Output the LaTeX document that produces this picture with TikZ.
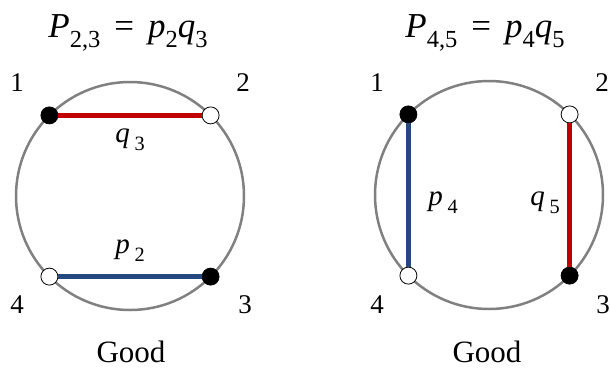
\documentclass[tikz,border=0pt]{standalone}
\usepackage{fontspec}
\setmainfont{Liberation Serif}
\usetikzlibrary{positioning}
\definecolor{chordred}{RGB}{192, 0, 0}
\definecolor{chordblue}{RGB}{38, 72, 128}
\newcommand{\lowsub}[1]{\raisebox{-0.6ex}{\scalebox{0.7}{#1}}}
\newcommand{\eqgap}{\hspace{0.4em}=\hspace{0.4em}}
\tikzset{
    ring/.style={
        circle, draw=gray, line width=2.5pt, minimum size=228pt,
        inner sep=0pt, outer sep=0pt
    },
    blackdot/.style={circle, draw=black, fill=black, line width=0.8pt, minimum size=17pt, inner sep=0pt},
    whitedot/.style={circle, draw=black, fill=white, line width=0.8pt, minimum size=17pt, inner sep=0pt},
    redchord/.style={draw=chordred, line width=5pt},
    bluechord/.style={draw=chordblue, line width=5pt},
}

\begin{document}
\begin{tikzpicture}[x=1pt, y=-1pt]
                \tikzstyle{numlabel}=[font=\fontsize{27}{30}\selectfont, inner sep=0pt]
                \tikzstyle{title}=[font=\fontsize{35}{40}\selectfont, inner sep=0pt]
                \tikzstyle{goodlabel}=[font=\fontsize{31}{36}\selectfont, inner sep=0pt]
                \tikzstyle{chordlabel}=[font=\fontsize{29}{34}\selectfont, inner sep=0pt]
                \useasboundingbox (0,0) rectangle (610,368);

                % Left: P_{2,3}
                \node[title] (titleA) at (128,33) {\textit{P}\lowsub{2,3}\eqgap\textit{p}\lowsub{2}\textit{q}\lowsub{3}};
                \node[ring] (ringA) at (130,196) {};
                \node[blackdot] (a1) at (ringA.135) {};
                \node[whitedot] (a2) at (ringA.45) {};
                \node[blackdot] (a3) at (ringA.-45) {};
                \node[whitedot] (a4) at (ringA.-135) {};
                \draw[redchord] (a1) -- (a2);
                \draw[bluechord] (a4) -- (a3);
                \node[chordlabel] (qA) at (130,140) {\textit{q}\,\lowsub{3}};
                \node[chordlabel] (pA) at (130,251) {\textit{p}\,\lowsub{2}};
                \node[numlabel] (n1A) at (17,83) {1};
                \node[numlabel] (n2A) at (243,83) {2};
                \node[numlabel] (n3A) at (245,305) {3};
                \node[numlabel] (n4A) at (17,305) {4};
                \node[goodlabel] (goodA) at (131,352) {Good};

                % Right: P_{4,5}
                \node[title] (titleB) at (485,33) {\textit{P}\lowsub{4,5}\eqgap\textit{p}\lowsub{4}\textit{q}\lowsub{5}};
                \node[ring] (ringB) at (489,195) {};
                \node[blackdot] (b1) at (ringB.135) {};
                \node[whitedot] (b2) at (ringB.45) {};
                \node[blackdot] (b3) at (ringB.-45) {};
                \node[whitedot] (b4) at (ringB.-135) {};
                \draw[bluechord] (b1) -- (b4);
                \draw[redchord] (b2) -- (b3);
                \node[chordlabel] (pB) at (443,203) {\textit{p}\,\lowsub{4}};
                \node[chordlabel] (qB) at (545,203) {\textit{q}\,\lowsub{5}};
                \node[numlabel] (n1B) at (377,83) {1};
                \node[numlabel] (n2B) at (602,83) {2};
                \node[numlabel] (n3B) at (603,305) {3};
                \node[numlabel] (n4B) at (377,305) {4};
                \node[goodlabel] (goodB) at (487,352) {Good};
            \end{tikzpicture}
\end{document}
